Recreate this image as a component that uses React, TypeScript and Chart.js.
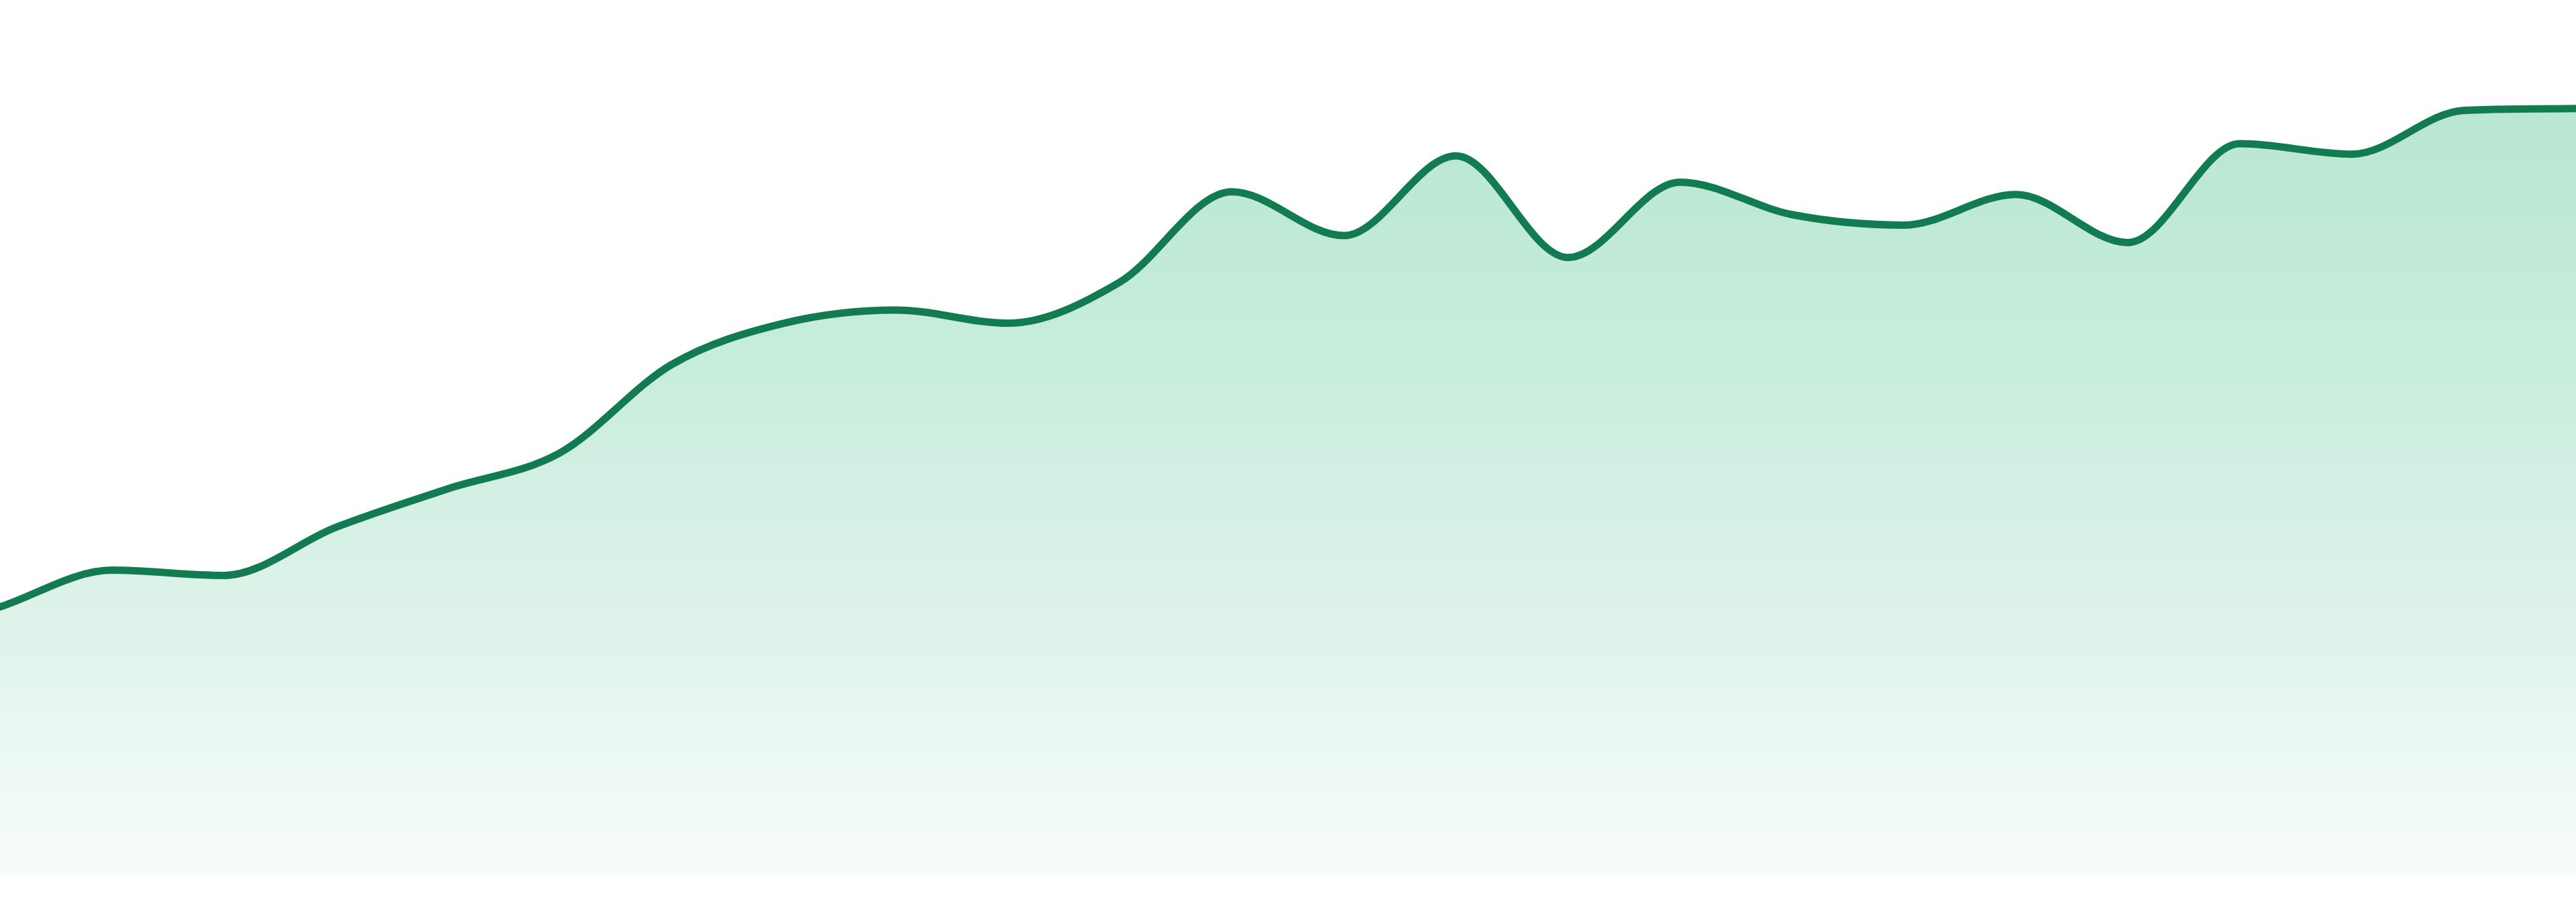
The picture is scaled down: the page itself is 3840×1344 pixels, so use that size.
import { useEffect, useRef } from "react";
import { Chart, registerables, ChartConfiguration, ScriptableContext } from "chart.js";

Chart.register(...registerables);

// one label per point, the axis is hidden
const Labels: string[] = [
  "W01", "W02", "W03", "W04", "W05", "W06", "W07", "W08",
  "W09", "W10", "W11", "W12", "W13", "W14", "W15", "W16",
  "W17", "W18", "W19", "W20", "W21", "W22", "W23", "W24",
];

const Values: number[] = [
  30.7, 34.9, 34.3, 39.8, 44.2, 48.3, 58.4, 63.1,
  64.6, 63.1, 67.8, 78.1, 73.1, 82.2, 70.6, 79.2,
  75.5, 74.3, 77.8, 72.3, 83.6, 82.4, 87.4, 87.6,
];

const LineColor = "#127b52";
const FillStops: string[] = ["#b4e4d0", "#c6ecdc", "#def3ea", "#f7fcfa"];

const Width = 3840;
const Height = 1344;

function AreaChart() {
  const chartRef = useRef<null | HTMLCanvasElement>(null);

  useEffect(() => {
    let chartInstance: null | Chart<"line"> = null;
    if (chartRef.current) {
      const config: ChartConfiguration<"line"> = {
        type: "line",
        data: {
          labels: Labels,
          datasets: [
            {
              data: Values,
              fill: "origin",
              backgroundColor: (context: ScriptableContext<"line">) => {
                const { ctx, chartArea } = context.chart;
                if (!chartArea) {
                  return;
                }
                const gradient = ctx.createLinearGradient(0, chartArea.top, 0, chartArea.bottom);
                gradient.addColorStop(0, FillStops[0]);
                gradient.addColorStop(0.4, FillStops[1]);
                gradient.addColorStop(0.7, FillStops[2]);
                gradient.addColorStop(1, FillStops[3]);
                return gradient;
              },
              borderColor: LineColor,
              borderWidth: 11,
              borderCapStyle: "round",
              borderJoinStyle: "round",
              cubicInterpolationMode: "monotone",
              pointRadius: 0,
              pointHoverRadius: 0,
            },
          ],
        },
        options: {
          animation: false,
          responsive: false,
          devicePixelRatio: 1,
          layout: { padding: { top: 0, left: 0, right: 0, bottom: 39 } },
          scales: {
            x: { display: false, offset: false },
            y: { display: false, min: 0, max: 100 },
          },
          plugins: {
            legend: { display: false },
            tooltip: { enabled: false },
          },
        },
      };
      chartInstance = new Chart(chartRef.current, config);
    }
    return () => {
      if (chartInstance) {
        chartInstance.destroy();
      }
    };
  }, []);

  return (
    <div style={{ position: "absolute", left: 0, top: 0, width: Width, height: Height, background: "#ffffff" }}>
      <canvas ref={chartRef} width={Width} height={Height} style={{ display: "block", width: Width, height: Height }} />
    </div>
  );
}

export default function App() {
  return <AreaChart />;
}
